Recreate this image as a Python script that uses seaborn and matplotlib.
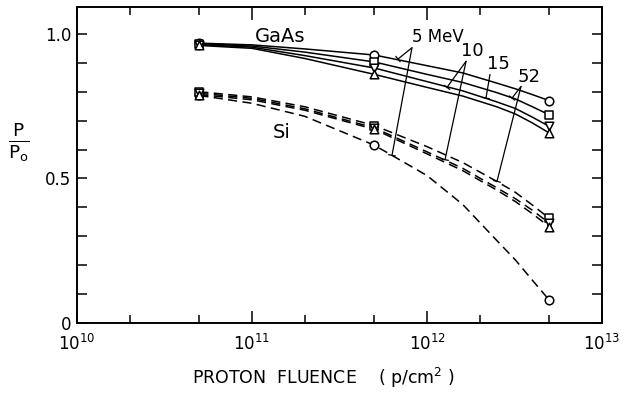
import matplotlib
matplotlib.use("Agg")
from matplotlib import pyplot as plt
from matplotlib.ticker import LogLocator, MultipleLocator, FixedLocator
import pandas as pd
import seaborn as sns

# fluence points (p/cm^2)
fluence = [5e10, 1e11, 2e11, 5e11, 1e12, 1.6e12, 2.5e12, 3.2e12, 4e12, 5e12]
# fluences where measurements were marked
measured = [5e10, 5e11, 5e12]
energies = ["5", "10", "15", "52"]
markers = ["o", "s", "v", "^"]

# GaAs (solid curves)
gaas_5 = [0.968, 0.962, 0.948, 0.927, 0.890, 0.865, 0.830, 0.810, 0.790, 0.769]
gaas_10 = [0.966, 0.958, 0.937, 0.903, 0.860, 0.832, 0.797, 0.775, 0.748, 0.720]
gaas_15 = [0.963, 0.954, 0.925, 0.882, 0.835, 0.803, 0.765, 0.742, 0.712, 0.680]
gaas_52 = [0.960, 0.950, 0.915, 0.860, 0.815, 0.785, 0.748, 0.723, 0.692, 0.657]
# Si (dashed curves)
si_5 = [0.787, 0.760, 0.715, 0.615, 0.510, 0.410, 0.286, 0.218, 0.148, 0.079]
si_10 = [0.800, 0.782, 0.748, 0.683, 0.610, 0.555, 0.490, 0.452, 0.408, 0.362]
si_15 = [0.795, 0.777, 0.741, 0.675, 0.592, 0.535, 0.468, 0.430, 0.390, 0.345]
si_52 = [0.790, 0.772, 0.736, 0.670, 0.585, 0.527, 0.460, 0.420, 0.378, 0.333]

gaas = [gaas_5, gaas_10, gaas_15, gaas_52]
si = [si_5, si_10, si_15, si_52]

sns.set_style("ticks")
plt.rcParams["font.family"] = ["DejaVu Sans"]
plt.rcParams["mathtext.default"] = "regular"
plt.rcParams["text.color"] = "black"
plt.rcParams["axes.labelcolor"] = "black"

fig = plt.figure(figsize=(6.24, 4.13), dpi=100)
ax = fig.add_axes([77 / 624, 1 - 323 / 413, (602 - 77) / 624, (323 - 7) / 413])

for i, e in enumerate(energies):
    for vals, ls in ((gaas[i], "-"), (si[i], "--")):
        df = pd.DataFrame({"fluence": fluence, "ratio": vals})
        line = sns.lineplot(data=df, x="fluence", y="ratio", ax=ax, color="black",
                            lw=1.1, sort=False)
        if ls == "--":
            line.lines[-1].set_dashes((6, 3.5))
        pts = df[df["fluence"].isin(measured)]
        sns.scatterplot(data=pts, x="fluence", y="ratio", ax=ax, marker=markers[i],
                        s=38, facecolor="white", edgecolor="black", linewidth=1.1,
                        zorder=5)

ax.set_xscale("log")
ax.set_xlim(1e10, 1e13)
ax.set_ylim(0, 1.093)

ax.xaxis.set_major_locator(LogLocator(base=10, numticks=10))
ax.xaxis.set_minor_locator(LogLocator(base=10, subs=(2, 5), numticks=10))
ax.yaxis.set_major_locator(FixedLocator([0, 0.5, 1.0]))
ax.yaxis.set_minor_locator(MultipleLocator(0.1))
ax.set_yticklabels(["0", "0.5", "1.0"])
ax.tick_params(which="both", direction="in", top=True, right=True, width=1.1,
               labelsize=12, colors="black")
ax.tick_params(axis="x", which="major", length=9, pad=8)
ax.tick_params(axis="x", which="minor", length=6)
ax.tick_params(axis="y", which="both", length=7, pad=4)
for sp in ax.spines.values():
    sp.set_linewidth(1.4)
    sp.set_color("black")

ax.set_xlabel("PROTON  FLUENCE    ( p/cm$^2$ )", fontsize=12.5)
ax.xaxis.set_label_coords(0.469, -0.135)
ax.set_ylabel(r"$\frac{\mathrm{P}}{\mathrm{P_o}}$", fontsize=19, rotation=0,
              va="center")
ax.yaxis.set_label_coords(-0.11, 0.573)

ax.text(10 ** 11.16, 0.99, "GaAs", fontsize=14, ha="center", va="center")
ax.text(10 ** 11.17, 0.66, "Si", fontsize=14, ha="center", va="center")
ax.text(10 ** 12.06, 0.99, "5 MeV", fontsize=12, ha="center", va="center")
ax.text(10 ** 12.26, 0.94, "10", fontsize=13, ha="center", va="center")
ax.text(10 ** 12.41, 0.895, "15", fontsize=13, ha="center", va="center")
ax.text(10 ** 12.585, 0.85, "52", fontsize=13, ha="center", va="center")

arrow = dict(arrowstyle="-[, widthB=0.25, lengthB=0.0", color="black", lw=0.9,
             shrinkA=0, shrinkB=0)
pointers = [
    ((11.914, 0.952), (11.834, 0.913)),
    ((11.914, 0.952), (11.800, 0.580)),
    ((12.223, 0.905), (12.114, 0.815)),
    ((12.223, 0.905), (12.103, 0.565)),
    ((12.360, 0.860), (12.337, 0.778)),
    ((12.537, 0.818), (12.486, 0.778)),
    ((12.537, 0.818), (12.400, 0.490)),
]
for (sx, sy), (tx, ty) in pointers:
    ax.annotate("", xy=(10 ** tx, ty), xytext=(10 ** sx, sy), arrowprops=arrow)

fig.savefig("out.png", dpi=100)
